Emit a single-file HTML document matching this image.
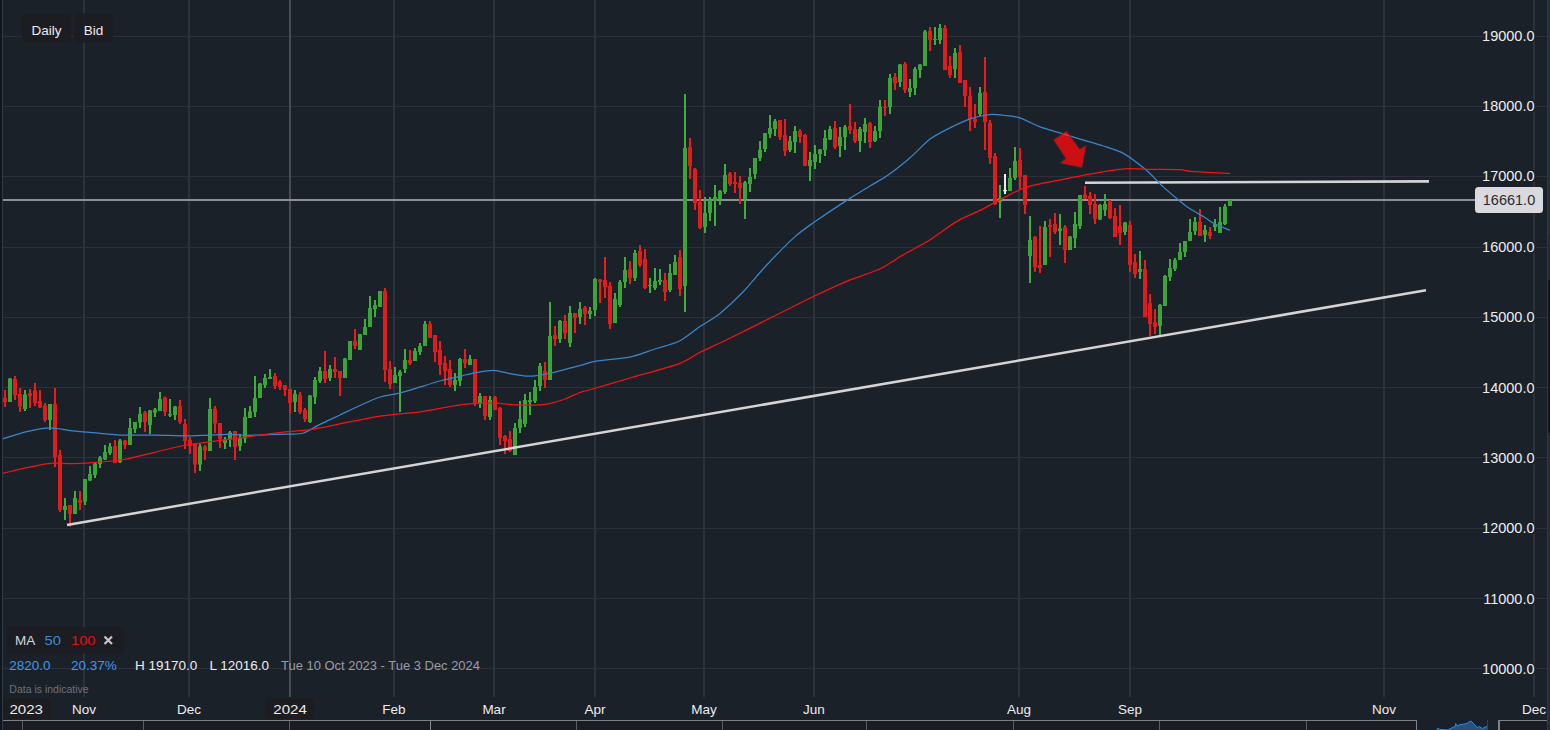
<!DOCTYPE html><html><head><meta charset="utf-8"><title>Chart</title><style>
html,body{margin:0;padding:0;background:#1b2129;}
body{width:1550px;height:730px;overflow:hidden;font-family:"Liberation Sans",sans-serif;}
svg{display:block;position:absolute;left:0;top:0;}svg text{font-family:"Liberation Sans",sans-serif;}
.ax{font-size:14.5px;fill:#ececee;paint-order:stroke;stroke:#1b2129;stroke-width:4px;stroke-linejoin:round;}
.mo{font-size:13.5px;fill:#ececee;}
</style></head><body>
<svg width="1550" height="730" viewBox="0 0 1550 730">
<rect x="0" y="0" width="1550" height="730" fill="#1b2129"/>
<rect x="3" y="36" width="1544" height="1" fill="#2c3039"/>
<rect x="3" y="106" width="1544" height="1" fill="#2c3039"/>
<rect x="3" y="176" width="1544" height="1" fill="#2c3039"/>
<rect x="3" y="247" width="1544" height="1" fill="#2c3039"/>
<rect x="3" y="317" width="1544" height="1" fill="#2c3039"/>
<rect x="3" y="387" width="1544" height="1" fill="#2c3039"/>
<rect x="3" y="457" width="1544" height="1" fill="#2c3039"/>
<rect x="3" y="528" width="1544" height="1" fill="#2c3039"/>
<rect x="3" y="598" width="1544" height="1" fill="#2c3039"/>
<rect x="3" y="668" width="1544" height="1" fill="#2c3039"/>
<rect x="83" y="0" width="2" height="697" fill="#2d313b"/>
<rect x="188" y="0" width="2" height="697" fill="#2d313b"/>
<rect x="393" y="0" width="2" height="697" fill="#2d313b"/>
<rect x="493" y="0" width="2" height="697" fill="#2d313b"/>
<rect x="594" y="0" width="2" height="697" fill="#2d313b"/>
<rect x="703" y="0" width="2" height="697" fill="#2d313b"/>
<rect x="813" y="0" width="2" height="697" fill="#2d313b"/>
<rect x="1018" y="0" width="2" height="697" fill="#2d313b"/>
<rect x="1129" y="0" width="2" height="697" fill="#2d313b"/>
<rect x="1383" y="0" width="2" height="697" fill="#2d313b"/>
<rect x="1533" y="0" width="2" height="697" fill="#2d313b"/>
<rect x="289" y="0" width="2" height="697" fill="#4a4b56"/>
<rect x="3" y="199" width="1473" height="2" fill="#8e9098"/>
<rect x="4" y="390.0" width="2" height="17.0" fill="#f01a1a"/>
<rect x="3" y="398.0" width="4" height="4.0" fill="#e01c1c"/>
<rect x="9" y="378.0" width="2" height="24.0" fill="#3fae3e"/>
<rect x="8" y="378.5" width="4" height="23.5" fill="#3ba53a"/>
<rect x="14" y="376.0" width="2" height="24.0" fill="#f01a1a"/>
<rect x="13" y="379.0" width="4" height="16.0" fill="#e01c1c"/>
<rect x="19" y="388.0" width="2" height="24.0" fill="#f01a1a"/>
<rect x="18" y="394.0" width="4" height="12.5" fill="#e01c1c"/>
<rect x="24" y="390.0" width="2" height="21.0" fill="#3fae3e"/>
<rect x="23" y="394.5" width="4" height="14.5" fill="#3ba53a"/>
<rect x="29" y="389.0" width="2" height="19.0" fill="#f01a1a"/>
<rect x="28" y="393.0" width="4" height="3.0" fill="#e01c1c"/>
<rect x="34" y="383.0" width="2" height="23.0" fill="#f01a1a"/>
<rect x="33" y="390.5" width="4" height="12.5" fill="#e01c1c"/>
<rect x="39" y="390.0" width="2" height="18.0" fill="#f01a1a"/>
<rect x="38" y="401.0" width="4" height="6.5" fill="#e01c1c"/>
<rect x="44" y="403.0" width="2" height="19.0" fill="#f01a1a"/>
<rect x="43" y="405.5" width="4" height="14.5" fill="#e01c1c"/>
<rect x="49" y="404.0" width="2" height="26.0" fill="#3fae3e"/>
<rect x="48" y="404.0" width="4" height="16.0" fill="#3ba53a"/>
<rect x="54" y="388.0" width="2" height="79.0" fill="#f01a1a"/>
<rect x="53" y="404.0" width="4" height="53.0" fill="#e01c1c"/>
<rect x="59" y="450.0" width="2" height="62.0" fill="#f01a1a"/>
<rect x="58" y="455.0" width="4" height="55.0" fill="#e01c1c"/>
<rect x="64" y="498.0" width="2" height="22.0" fill="#3fae3e"/>
<rect x="63" y="506.0" width="4" height="4.0" fill="#3ba53a"/>
<rect x="69" y="505.0" width="2" height="21.5" fill="#f01a1a"/>
<rect x="68" y="505.0" width="4" height="9.0" fill="#e01c1c"/>
<rect x="74" y="491.0" width="2" height="23.0" fill="#3fae3e"/>
<rect x="73" y="498.0" width="4" height="16.0" fill="#3ba53a"/>
<rect x="79" y="491.0" width="2" height="19.0" fill="#f01a1a"/>
<rect x="78" y="500.0" width="4" height="3.0" fill="#e01c1c"/>
<rect x="84" y="479.0" width="2" height="26.0" fill="#3fae3e"/>
<rect x="83" y="479.0" width="4" height="22.5" fill="#3ba53a"/>
<rect x="89" y="466.0" width="2" height="15.0" fill="#3fae3e"/>
<rect x="88" y="474.0" width="4" height="6.5" fill="#3ba53a"/>
<rect x="94" y="463.0" width="2" height="15.0" fill="#3fae3e"/>
<rect x="93" y="463.5" width="4" height="11.5" fill="#3ba53a"/>
<rect x="99" y="456.0" width="2" height="12.0" fill="#3fae3e"/>
<rect x="98" y="457.5" width="4" height="6.5" fill="#3ba53a"/>
<rect x="104" y="445.0" width="2" height="15.0" fill="#3fae3e"/>
<rect x="103" y="452.0" width="4" height="7.5" fill="#3ba53a"/>
<rect x="109" y="443.0" width="2" height="12.0" fill="#3fae3e"/>
<rect x="108" y="446.5" width="4" height="6.5" fill="#3ba53a"/>
<rect x="114" y="440.0" width="2" height="23.0" fill="#f01a1a"/>
<rect x="113" y="446.0" width="4" height="17.0" fill="#e01c1c"/>
<rect x="119" y="439.0" width="2" height="24.0" fill="#3fae3e"/>
<rect x="118" y="440.5" width="4" height="21.5" fill="#3ba53a"/>
<rect x="124" y="440.0" width="2" height="9.0" fill="#f01a1a"/>
<rect x="123" y="440.5" width="4" height="4.5" fill="#e01c1c"/>
<rect x="129" y="418.0" width="2" height="27.0" fill="#3fae3e"/>
<rect x="128" y="428.0" width="4" height="17.0" fill="#3ba53a"/>
<rect x="134" y="422.0" width="2" height="11.0" fill="#3fae3e"/>
<rect x="133" y="422.0" width="4" height="7.0" fill="#3ba53a"/>
<rect x="139" y="407.0" width="2" height="21.0" fill="#3fae3e"/>
<rect x="138" y="414.0" width="4" height="8.5" fill="#3ba53a"/>
<rect x="144" y="411.0" width="2" height="21.0" fill="#f01a1a"/>
<rect x="143" y="412.5" width="4" height="9.5" fill="#e01c1c"/>
<rect x="149" y="410.0" width="2" height="24.0" fill="#3fae3e"/>
<rect x="148" y="410.5" width="4" height="14.5" fill="#3ba53a"/>
<rect x="154" y="408.0" width="2" height="9.0" fill="#3fae3e"/>
<rect x="153" y="409.5" width="4" height="3.0" fill="#3ba53a"/>
<rect x="159" y="392.0" width="2" height="19.0" fill="#3fae3e"/>
<rect x="158" y="399.0" width="4" height="12.0" fill="#3ba53a"/>
<rect x="164" y="396.5" width="2" height="19.5" fill="#f01a1a"/>
<rect x="163" y="397.5" width="4" height="14.5" fill="#e01c1c"/>
<rect x="169" y="399.0" width="2" height="18.0" fill="#3fae3e"/>
<rect x="168" y="414.0" width="4" height="1.5" fill="#3ba53a"/>
<rect x="174" y="406.0" width="2" height="14.0" fill="#3fae3e"/>
<rect x="173" y="406.5" width="4" height="8.5" fill="#3ba53a"/>
<rect x="179" y="400.0" width="2" height="24.0" fill="#f01a1a"/>
<rect x="178" y="406.0" width="4" height="16.0" fill="#e01c1c"/>
<rect x="184" y="419.0" width="2" height="30.0" fill="#f01a1a"/>
<rect x="183" y="424.0" width="4" height="17.0" fill="#e01c1c"/>
<rect x="189" y="437.0" width="2" height="17.0" fill="#f01a1a"/>
<rect x="188" y="440.0" width="4" height="6.0" fill="#e01c1c"/>
<rect x="194" y="443.0" width="2" height="30.0" fill="#f01a1a"/>
<rect x="193" y="443.5" width="4" height="21.0" fill="#e01c1c"/>
<rect x="199" y="444.0" width="2" height="27.0" fill="#3fae3e"/>
<rect x="198" y="446.5" width="4" height="18.0" fill="#3ba53a"/>
<rect x="204" y="445.0" width="2" height="15.0" fill="#f01a1a"/>
<rect x="203" y="446.5" width="4" height="4.0" fill="#e01c1c"/>
<rect x="209" y="398.0" width="2" height="53.0" fill="#3fae3e"/>
<rect x="208" y="409.0" width="4" height="42.0" fill="#3ba53a"/>
<rect x="214" y="406.0" width="2" height="27.0" fill="#f01a1a"/>
<rect x="213" y="408.5" width="4" height="15.0" fill="#e01c1c"/>
<rect x="219" y="423.0" width="2" height="25.0" fill="#f01a1a"/>
<rect x="218" y="423.0" width="4" height="16.0" fill="#e01c1c"/>
<rect x="224" y="437.0" width="2" height="12.0" fill="#3fae3e"/>
<rect x="223" y="439.5" width="4" height="3.5" fill="#3ba53a"/>
<rect x="229" y="431.0" width="2" height="16.0" fill="#3fae3e"/>
<rect x="228" y="432.5" width="4" height="7.0" fill="#3ba53a"/>
<rect x="234" y="431.0" width="2" height="29.0" fill="#f01a1a"/>
<rect x="233" y="431.0" width="4" height="16.0" fill="#e01c1c"/>
<rect x="239" y="434.0" width="2" height="17.0" fill="#3fae3e"/>
<rect x="238" y="438.0" width="4" height="8.0" fill="#3ba53a"/>
<rect x="244" y="408.0" width="2" height="35.0" fill="#3fae3e"/>
<rect x="243" y="417.0" width="4" height="21.5" fill="#3ba53a"/>
<rect x="249" y="406.0" width="2" height="12.0" fill="#3fae3e"/>
<rect x="248" y="411.5" width="4" height="6.5" fill="#3ba53a"/>
<rect x="254" y="376.0" width="2" height="41.0" fill="#3fae3e"/>
<rect x="253" y="398.0" width="4" height="14.0" fill="#3ba53a"/>
<rect x="259" y="383.0" width="2" height="15.0" fill="#3fae3e"/>
<rect x="258" y="383.5" width="4" height="14.5" fill="#3ba53a"/>
<rect x="264" y="374.0" width="2" height="14.0" fill="#3fae3e"/>
<rect x="263" y="378.0" width="4" height="7.0" fill="#3ba53a"/>
<rect x="269" y="369.0" width="2" height="10.0" fill="#3fae3e"/>
<rect x="268" y="377.0" width="4" height="2.0" fill="#3ba53a"/>
<rect x="274" y="373.0" width="2" height="16.0" fill="#f01a1a"/>
<rect x="273" y="376.0" width="4" height="10.0" fill="#e01c1c"/>
<rect x="279" y="380.0" width="2" height="10.0" fill="#f01a1a"/>
<rect x="278" y="382.0" width="4" height="5.0" fill="#e01c1c"/>
<rect x="284" y="385.0" width="2" height="11.0" fill="#f01a1a"/>
<rect x="283" y="385.0" width="4" height="5.0" fill="#e01c1c"/>
<rect x="289" y="389.0" width="2" height="24.0" fill="#f01a1a"/>
<rect x="288" y="389.0" width="4" height="14.0" fill="#e01c1c"/>
<rect x="294" y="390.0" width="2" height="22.0" fill="#3fae3e"/>
<rect x="293" y="394.0" width="4" height="8.0" fill="#3ba53a"/>
<rect x="299" y="392.0" width="2" height="22.0" fill="#f01a1a"/>
<rect x="298" y="395.0" width="4" height="17.0" fill="#e01c1c"/>
<rect x="304" y="408.0" width="2" height="14.0" fill="#f01a1a"/>
<rect x="303" y="410.0" width="4" height="9.0" fill="#e01c1c"/>
<rect x="309" y="395.0" width="2" height="28.0" fill="#3fae3e"/>
<rect x="308" y="395.5" width="4" height="26.5" fill="#3ba53a"/>
<rect x="314" y="377.0" width="2" height="27.0" fill="#3fae3e"/>
<rect x="313" y="380.0" width="4" height="17.0" fill="#3ba53a"/>
<rect x="319" y="367.0" width="2" height="16.0" fill="#3fae3e"/>
<rect x="318" y="371.0" width="4" height="10.0" fill="#3ba53a"/>
<rect x="324" y="351.0" width="2" height="32.0" fill="#f01a1a"/>
<rect x="323" y="371.0" width="4" height="8.0" fill="#e01c1c"/>
<rect x="329" y="365.0" width="2" height="16.0" fill="#3fae3e"/>
<rect x="328" y="369.0" width="4" height="9.0" fill="#3ba53a"/>
<rect x="334" y="357.0" width="2" height="21.0" fill="#f01a1a"/>
<rect x="333" y="369.0" width="4" height="3.0" fill="#e01c1c"/>
<rect x="339" y="371.0" width="2" height="25.0" fill="#f01a1a"/>
<rect x="338" y="371.0" width="4" height="7.0" fill="#e01c1c"/>
<rect x="344" y="358.0" width="2" height="20.0" fill="#3fae3e"/>
<rect x="343" y="358.5" width="4" height="19.5" fill="#3ba53a"/>
<rect x="349" y="341.0" width="2" height="19.0" fill="#3fae3e"/>
<rect x="348" y="341.0" width="4" height="19.0" fill="#3ba53a"/>
<rect x="354" y="329.0" width="2" height="20.0" fill="#f01a1a"/>
<rect x="353" y="341.0" width="4" height="5.0" fill="#e01c1c"/>
<rect x="359" y="334.0" width="2" height="16.0" fill="#3fae3e"/>
<rect x="358" y="334.0" width="4" height="16.0" fill="#3ba53a"/>
<rect x="364" y="319.0" width="2" height="16.0" fill="#3fae3e"/>
<rect x="363" y="327.0" width="4" height="8.0" fill="#3ba53a"/>
<rect x="369" y="296.0" width="2" height="31.0" fill="#3fae3e"/>
<rect x="368" y="308.0" width="4" height="19.0" fill="#3ba53a"/>
<rect x="374" y="300.0" width="2" height="17.0" fill="#3fae3e"/>
<rect x="373" y="305.0" width="4" height="4.0" fill="#3ba53a"/>
<rect x="379" y="291.0" width="2" height="16.0" fill="#3fae3e"/>
<rect x="378" y="291.0" width="4" height="16.0" fill="#3ba53a"/>
<rect x="384" y="288.0" width="2" height="94.0" fill="#f01a1a"/>
<rect x="383" y="291.0" width="4" height="79.0" fill="#e01c1c"/>
<rect x="389" y="361.0" width="2" height="28.0" fill="#f01a1a"/>
<rect x="388" y="369.0" width="4" height="15.0" fill="#e01c1c"/>
<rect x="394" y="367.0" width="2" height="16.0" fill="#3fae3e"/>
<rect x="393" y="375.0" width="4" height="8.0" fill="#3ba53a"/>
<rect x="399" y="370.0" width="2" height="42.0" fill="#3fae3e"/>
<rect x="398" y="372.0" width="4" height="4.0" fill="#3ba53a"/>
<rect x="404" y="349.0" width="2" height="24.0" fill="#3fae3e"/>
<rect x="403" y="360.0" width="4" height="9.0" fill="#3ba53a"/>
<rect x="409" y="350.0" width="2" height="15.0" fill="#f01a1a"/>
<rect x="408" y="360.0" width="4" height="3.5" fill="#e01c1c"/>
<rect x="414" y="348.0" width="2" height="13.0" fill="#3fae3e"/>
<rect x="413" y="351.0" width="4" height="10.0" fill="#3ba53a"/>
<rect x="419" y="343.0" width="2" height="12.0" fill="#3fae3e"/>
<rect x="418" y="346.0" width="4" height="6.0" fill="#3ba53a"/>
<rect x="424" y="321.0" width="2" height="25.0" fill="#3fae3e"/>
<rect x="423" y="324.0" width="4" height="22.0" fill="#3ba53a"/>
<rect x="429" y="321.0" width="2" height="17.0" fill="#f01a1a"/>
<rect x="428" y="324.0" width="4" height="14.0" fill="#e01c1c"/>
<rect x="434" y="335.0" width="2" height="27.0" fill="#f01a1a"/>
<rect x="433" y="335.0" width="4" height="17.0" fill="#e01c1c"/>
<rect x="439" y="341.0" width="2" height="34.0" fill="#f01a1a"/>
<rect x="438" y="350.0" width="4" height="15.0" fill="#e01c1c"/>
<rect x="444" y="356.0" width="2" height="29.0" fill="#f01a1a"/>
<rect x="443" y="363.0" width="4" height="8.0" fill="#e01c1c"/>
<rect x="449" y="360.0" width="2" height="27.0" fill="#f01a1a"/>
<rect x="448" y="369.0" width="4" height="16.0" fill="#e01c1c"/>
<rect x="454" y="373.0" width="2" height="18.0" fill="#3fae3e"/>
<rect x="453" y="380.0" width="4" height="5.0" fill="#3ba53a"/>
<rect x="459" y="358.0" width="2" height="28.0" fill="#3fae3e"/>
<rect x="458" y="359.0" width="4" height="22.0" fill="#3ba53a"/>
<rect x="464" y="349.0" width="2" height="19.0" fill="#f01a1a"/>
<rect x="463" y="359.0" width="4" height="4.0" fill="#e01c1c"/>
<rect x="469" y="355.0" width="2" height="10.0" fill="#3fae3e"/>
<rect x="468" y="359.0" width="4" height="6.0" fill="#3ba53a"/>
<rect x="474" y="359.0" width="2" height="47.0" fill="#f01a1a"/>
<rect x="473" y="359.0" width="4" height="44.0" fill="#e01c1c"/>
<rect x="479" y="393.0" width="2" height="15.0" fill="#3fae3e"/>
<rect x="478" y="396.0" width="4" height="8.0" fill="#3ba53a"/>
<rect x="484" y="396.0" width="2" height="24.0" fill="#f01a1a"/>
<rect x="483" y="396.0" width="4" height="20.0" fill="#e01c1c"/>
<rect x="489" y="396.0" width="2" height="24.0" fill="#3fae3e"/>
<rect x="488" y="400.0" width="4" height="17.0" fill="#3ba53a"/>
<rect x="494" y="396.0" width="2" height="14.0" fill="#f01a1a"/>
<rect x="493" y="397.0" width="4" height="13.0" fill="#e01c1c"/>
<rect x="499" y="407.0" width="2" height="38.0" fill="#f01a1a"/>
<rect x="498" y="408.0" width="4" height="30.0" fill="#e01c1c"/>
<rect x="504" y="435.0" width="2" height="19.0" fill="#f01a1a"/>
<rect x="503" y="436.0" width="4" height="5.0" fill="#e01c1c"/>
<rect x="509" y="431.0" width="2" height="21.0" fill="#f01a1a"/>
<rect x="508" y="439.0" width="4" height="12.0" fill="#e01c1c"/>
<rect x="514" y="423.0" width="2" height="32.0" fill="#3fae3e"/>
<rect x="513" y="428.0" width="4" height="27.0" fill="#3ba53a"/>
<rect x="519" y="401.0" width="2" height="32.0" fill="#3fae3e"/>
<rect x="518" y="419.0" width="4" height="9.0" fill="#3ba53a"/>
<rect x="524" y="394.0" width="2" height="33.0" fill="#3fae3e"/>
<rect x="523" y="400.0" width="4" height="24.0" fill="#3ba53a"/>
<rect x="529" y="392.0" width="2" height="23.0" fill="#3fae3e"/>
<rect x="528" y="400.0" width="4" height="2.0" fill="#3ba53a"/>
<rect x="534" y="380.0" width="2" height="23.0" fill="#3fae3e"/>
<rect x="533" y="387.0" width="4" height="14.0" fill="#3ba53a"/>
<rect x="539" y="363.0" width="2" height="28.0" fill="#3fae3e"/>
<rect x="538" y="366.0" width="4" height="20.0" fill="#3ba53a"/>
<rect x="544" y="362.0" width="2" height="26.0" fill="#f01a1a"/>
<rect x="543" y="371.0" width="4" height="9.0" fill="#e01c1c"/>
<rect x="549" y="302.0" width="2" height="78.0" fill="#3fae3e"/>
<rect x="548" y="336.0" width="4" height="44.0" fill="#3ba53a"/>
<rect x="554" y="326.0" width="2" height="20.0" fill="#f01a1a"/>
<rect x="553" y="335.0" width="4" height="4.0" fill="#e01c1c"/>
<rect x="559" y="320.0" width="2" height="23.0" fill="#3fae3e"/>
<rect x="558" y="321.0" width="4" height="18.0" fill="#3ba53a"/>
<rect x="564" y="315.0" width="2" height="24.0" fill="#f01a1a"/>
<rect x="563" y="321.0" width="4" height="12.0" fill="#e01c1c"/>
<rect x="569" y="306.0" width="2" height="41.0" fill="#3fae3e"/>
<rect x="568" y="313.0" width="4" height="30.0" fill="#3ba53a"/>
<rect x="574" y="313.0" width="2" height="20.0" fill="#f01a1a"/>
<rect x="573" y="313.0" width="4" height="5.0" fill="#e01c1c"/>
<rect x="579" y="302.0" width="2" height="22.0" fill="#3fae3e"/>
<rect x="578" y="309.0" width="4" height="8.0" fill="#3ba53a"/>
<rect x="584" y="306.0" width="2" height="19.0" fill="#f01a1a"/>
<rect x="583" y="307.5" width="4" height="6.5" fill="#e01c1c"/>
<rect x="589" y="307.0" width="2" height="12.0" fill="#3fae3e"/>
<rect x="588" y="311.0" width="4" height="3.0" fill="#3ba53a"/>
<rect x="594" y="278.0" width="2" height="38.0" fill="#3fae3e"/>
<rect x="593" y="279.0" width="4" height="31.0" fill="#3ba53a"/>
<rect x="599" y="279.0" width="2" height="24.0" fill="#f01a1a"/>
<rect x="598" y="279.5" width="4" height="2.5" fill="#e01c1c"/>
<rect x="604" y="257.0" width="2" height="41.0" fill="#f01a1a"/>
<rect x="603" y="280.0" width="4" height="7.0" fill="#e01c1c"/>
<rect x="609" y="282.0" width="2" height="47.0" fill="#f01a1a"/>
<rect x="608" y="286.0" width="4" height="38.0" fill="#e01c1c"/>
<rect x="614" y="293.0" width="2" height="30.0" fill="#3fae3e"/>
<rect x="613" y="299.0" width="4" height="24.0" fill="#3ba53a"/>
<rect x="619" y="280.0" width="2" height="27.0" fill="#3fae3e"/>
<rect x="618" y="282.0" width="4" height="23.0" fill="#3ba53a"/>
<rect x="624" y="257.0" width="2" height="31.0" fill="#3fae3e"/>
<rect x="623" y="270.0" width="4" height="12.0" fill="#3ba53a"/>
<rect x="629" y="261.0" width="2" height="23.0" fill="#f01a1a"/>
<rect x="628" y="269.0" width="4" height="9.0" fill="#e01c1c"/>
<rect x="634" y="250.0" width="2" height="31.0" fill="#3fae3e"/>
<rect x="633" y="253.0" width="4" height="25.0" fill="#3ba53a"/>
<rect x="639" y="245.0" width="2" height="22.0" fill="#f01a1a"/>
<rect x="638" y="251.0" width="4" height="14.0" fill="#e01c1c"/>
<rect x="644" y="249.0" width="2" height="40.0" fill="#f01a1a"/>
<rect x="643" y="259.0" width="4" height="29.0" fill="#e01c1c"/>
<rect x="649" y="278.0" width="2" height="15.0" fill="#3fae3e"/>
<rect x="648" y="285.0" width="4" height="1.0" fill="#3ba53a"/>
<rect x="654" y="268.0" width="2" height="22.0" fill="#3fae3e"/>
<rect x="653" y="281.0" width="4" height="7.0" fill="#3ba53a"/>
<rect x="659" y="269.0" width="2" height="16.0" fill="#3fae3e"/>
<rect x="658" y="280.0" width="4" height="2.0" fill="#3ba53a"/>
<rect x="664" y="273.0" width="2" height="28.0" fill="#f01a1a"/>
<rect x="663" y="280.0" width="4" height="12.0" fill="#e01c1c"/>
<rect x="669" y="264.0" width="2" height="28.0" fill="#3fae3e"/>
<rect x="668" y="273.0" width="4" height="17.0" fill="#3ba53a"/>
<rect x="674" y="255.0" width="2" height="20.0" fill="#3fae3e"/>
<rect x="673" y="262.0" width="4" height="13.0" fill="#3ba53a"/>
<rect x="679" y="250.0" width="2" height="46.0" fill="#f01a1a"/>
<rect x="678" y="257.0" width="4" height="32.0" fill="#e01c1c"/>
<rect x="684" y="94.0" width="2" height="218.0" fill="#3fae3e"/>
<rect x="683" y="148.0" width="4" height="138.0" fill="#3ba53a"/>
<rect x="689" y="138.0" width="2" height="41.0" fill="#f01a1a"/>
<rect x="688" y="147.0" width="4" height="19.0" fill="#e01c1c"/>
<rect x="694" y="168.0" width="2" height="42.0" fill="#f01a1a"/>
<rect x="693" y="169.0" width="4" height="34.0" fill="#e01c1c"/>
<rect x="699" y="190.0" width="2" height="39.0" fill="#f01a1a"/>
<rect x="698" y="202.0" width="4" height="26.0" fill="#e01c1c"/>
<rect x="704" y="197.0" width="2" height="36.0" fill="#3fae3e"/>
<rect x="703" y="213.0" width="4" height="14.0" fill="#3ba53a"/>
<rect x="709" y="197.0" width="2" height="24.0" fill="#3fae3e"/>
<rect x="708" y="200.0" width="4" height="13.0" fill="#3ba53a"/>
<rect x="714" y="185.0" width="2" height="41.0" fill="#3fae3e"/>
<rect x="713" y="197.0" width="4" height="4.0" fill="#3ba53a"/>
<rect x="719" y="190.0" width="2" height="15.0" fill="#3fae3e"/>
<rect x="718" y="191.0" width="4" height="8.0" fill="#3ba53a"/>
<rect x="724" y="164.0" width="2" height="30.0" fill="#3fae3e"/>
<rect x="723" y="175.0" width="4" height="17.0" fill="#3ba53a"/>
<rect x="729" y="172.0" width="2" height="14.0" fill="#f01a1a"/>
<rect x="728" y="173.5" width="4" height="10.5" fill="#e01c1c"/>
<rect x="734" y="172.0" width="2" height="21.0" fill="#f01a1a"/>
<rect x="733" y="182.0" width="4" height="2.0" fill="#e01c1c"/>
<rect x="739" y="176.0" width="2" height="28.0" fill="#f01a1a"/>
<rect x="738" y="183.0" width="4" height="5.0" fill="#e01c1c"/>
<rect x="744" y="181.0" width="2" height="38.0" fill="#3fae3e"/>
<rect x="743" y="182.5" width="4" height="16.5" fill="#3ba53a"/>
<rect x="749" y="168.0" width="2" height="24.0" fill="#3fae3e"/>
<rect x="748" y="177.0" width="4" height="7.0" fill="#3ba53a"/>
<rect x="754" y="158.0" width="2" height="21.0" fill="#3fae3e"/>
<rect x="753" y="158.0" width="4" height="16.0" fill="#3ba53a"/>
<rect x="759" y="141.0" width="2" height="20.0" fill="#3fae3e"/>
<rect x="758" y="150.0" width="4" height="8.0" fill="#3ba53a"/>
<rect x="764" y="133.0" width="2" height="19.0" fill="#3fae3e"/>
<rect x="763" y="133.0" width="4" height="16.0" fill="#3ba53a"/>
<rect x="769" y="115.0" width="2" height="23.0" fill="#3fae3e"/>
<rect x="768" y="128.0" width="4" height="6.0" fill="#3ba53a"/>
<rect x="774" y="119.0" width="2" height="17.0" fill="#3fae3e"/>
<rect x="773" y="121.0" width="4" height="8.0" fill="#3ba53a"/>
<rect x="779" y="120.0" width="2" height="20.0" fill="#f01a1a"/>
<rect x="778" y="120.0" width="4" height="17.0" fill="#e01c1c"/>
<rect x="784" y="119.0" width="2" height="37.0" fill="#f01a1a"/>
<rect x="783" y="135.0" width="4" height="16.0" fill="#e01c1c"/>
<rect x="789" y="136.0" width="2" height="16.0" fill="#3fae3e"/>
<rect x="788" y="141.0" width="4" height="9.0" fill="#3ba53a"/>
<rect x="794" y="126.0" width="2" height="27.0" fill="#3fae3e"/>
<rect x="793" y="131.0" width="4" height="11.0" fill="#3ba53a"/>
<rect x="799" y="129.0" width="2" height="14.0" fill="#f01a1a"/>
<rect x="798" y="131.0" width="4" height="6.0" fill="#e01c1c"/>
<rect x="804" y="134.0" width="2" height="32.0" fill="#f01a1a"/>
<rect x="803" y="135.0" width="4" height="31.0" fill="#e01c1c"/>
<rect x="809" y="152.0" width="2" height="29.0" fill="#3fae3e"/>
<rect x="808" y="160.0" width="4" height="6.0" fill="#3ba53a"/>
<rect x="814" y="145.0" width="2" height="24.0" fill="#3fae3e"/>
<rect x="813" y="154.0" width="4" height="8.0" fill="#3ba53a"/>
<rect x="819" y="149.0" width="2" height="14.0" fill="#3fae3e"/>
<rect x="818" y="149.5" width="4" height="4.5" fill="#3ba53a"/>
<rect x="824" y="130.0" width="2" height="26.0" fill="#3fae3e"/>
<rect x="823" y="138.0" width="4" height="12.0" fill="#3ba53a"/>
<rect x="829" y="126.0" width="2" height="14.0" fill="#3fae3e"/>
<rect x="828" y="129.0" width="4" height="10.5" fill="#3ba53a"/>
<rect x="834" y="121.0" width="2" height="28.0" fill="#f01a1a"/>
<rect x="833" y="128.0" width="4" height="19.0" fill="#e01c1c"/>
<rect x="839" y="127.0" width="2" height="30.0" fill="#3fae3e"/>
<rect x="838" y="137.0" width="4" height="9.0" fill="#3ba53a"/>
<rect x="844" y="125.0" width="2" height="25.0" fill="#3fae3e"/>
<rect x="843" y="127.0" width="4" height="10.0" fill="#3ba53a"/>
<rect x="849" y="104.0" width="2" height="30.0" fill="#f01a1a"/>
<rect x="848" y="126.0" width="4" height="4.0" fill="#e01c1c"/>
<rect x="854" y="122.0" width="2" height="21.0" fill="#f01a1a"/>
<rect x="853" y="129.0" width="4" height="12.0" fill="#e01c1c"/>
<rect x="859" y="127.0" width="2" height="25.0" fill="#3fae3e"/>
<rect x="858" y="129.0" width="4" height="12.0" fill="#3ba53a"/>
<rect x="864" y="118.0" width="2" height="25.0" fill="#3fae3e"/>
<rect x="863" y="124.0" width="4" height="8.0" fill="#3ba53a"/>
<rect x="869" y="122.0" width="2" height="26.0" fill="#f01a1a"/>
<rect x="868" y="123.0" width="4" height="19.0" fill="#e01c1c"/>
<rect x="874" y="126.0" width="2" height="16.0" fill="#3fae3e"/>
<rect x="873" y="131.0" width="4" height="10.0" fill="#3ba53a"/>
<rect x="879" y="100.0" width="2" height="38.0" fill="#3fae3e"/>
<rect x="878" y="107.0" width="4" height="24.0" fill="#3ba53a"/>
<rect x="884" y="100.0" width="2" height="16.0" fill="#f01a1a"/>
<rect x="883" y="107.0" width="4" height="1.0" fill="#e01c1c"/>
<rect x="889" y="74.0" width="2" height="40.0" fill="#3fae3e"/>
<rect x="888" y="78.0" width="4" height="29.0" fill="#3ba53a"/>
<rect x="894" y="73.0" width="2" height="17.0" fill="#f01a1a"/>
<rect x="893" y="77.0" width="4" height="6.0" fill="#e01c1c"/>
<rect x="899" y="64.0" width="2" height="23.0" fill="#3fae3e"/>
<rect x="898" y="64.5" width="4" height="17.5" fill="#3ba53a"/>
<rect x="904" y="62.0" width="2" height="31.0" fill="#f01a1a"/>
<rect x="903" y="64.0" width="4" height="26.0" fill="#e01c1c"/>
<rect x="909" y="79.0" width="2" height="18.0" fill="#3fae3e"/>
<rect x="908" y="88.0" width="4" height="4.0" fill="#3ba53a"/>
<rect x="914" y="67.0" width="2" height="28.0" fill="#3fae3e"/>
<rect x="913" y="69.0" width="4" height="19.0" fill="#3ba53a"/>
<rect x="919" y="64.0" width="2" height="14.0" fill="#3fae3e"/>
<rect x="918" y="64.5" width="4" height="5.5" fill="#3ba53a"/>
<rect x="924" y="30.0" width="2" height="36.0" fill="#3fae3e"/>
<rect x="923" y="31.5" width="4" height="34.5" fill="#3ba53a"/>
<rect x="929" y="27.0" width="2" height="24.0" fill="#f01a1a"/>
<rect x="928" y="31.0" width="4" height="9.0" fill="#e01c1c"/>
<rect x="934" y="27.0" width="2" height="18.0" fill="#3fae3e"/>
<rect x="933" y="39.0" width="4" height="1.0" fill="#3ba53a"/>
<rect x="939" y="24.0" width="2" height="20.0" fill="#3fae3e"/>
<rect x="938" y="28.0" width="4" height="12.0" fill="#3ba53a"/>
<rect x="944" y="25.0" width="2" height="45.0" fill="#f01a1a"/>
<rect x="943" y="28.0" width="4" height="42.0" fill="#e01c1c"/>
<rect x="949" y="56.0" width="2" height="22.0" fill="#f01a1a"/>
<rect x="948" y="66.0" width="4" height="9.0" fill="#e01c1c"/>
<rect x="954" y="48.0" width="2" height="30.0" fill="#3fae3e"/>
<rect x="953" y="53.0" width="4" height="16.0" fill="#3ba53a"/>
<rect x="959" y="45.0" width="2" height="38.0" fill="#f01a1a"/>
<rect x="958" y="52.0" width="4" height="31.0" fill="#e01c1c"/>
<rect x="964" y="80.0" width="2" height="27.0" fill="#f01a1a"/>
<rect x="963" y="80.0" width="4" height="16.0" fill="#e01c1c"/>
<rect x="969" y="87.0" width="2" height="44.0" fill="#f01a1a"/>
<rect x="968" y="96.0" width="4" height="23.0" fill="#e01c1c"/>
<rect x="974" y="104.0" width="2" height="24.0" fill="#f01a1a"/>
<rect x="973" y="119.0" width="4" height="3.0" fill="#e01c1c"/>
<rect x="979" y="87.0" width="2" height="29.0" fill="#3fae3e"/>
<rect x="978" y="93.0" width="4" height="21.0" fill="#3ba53a"/>
<rect x="984" y="57.0" width="2" height="93.0" fill="#f01a1a"/>
<rect x="983" y="92.0" width="4" height="30.0" fill="#e01c1c"/>
<rect x="989" y="120.0" width="2" height="44.0" fill="#f01a1a"/>
<rect x="988" y="123.0" width="4" height="35.0" fill="#e01c1c"/>
<rect x="994" y="153.0" width="2" height="52.0" fill="#f01a1a"/>
<rect x="993" y="156.0" width="4" height="48.0" fill="#e01c1c"/>
<rect x="999" y="185.0" width="2" height="33.0" fill="#3fae3e"/>
<rect x="998" y="198.0" width="4" height="4.0" fill="#3ba53a"/>
<rect x="1009" y="168.0" width="2" height="23.0" fill="#3fae3e"/>
<rect x="1008" y="178.0" width="4" height="13.0" fill="#3ba53a"/>
<rect x="1014" y="147.0" width="2" height="33.0" fill="#3fae3e"/>
<rect x="1013" y="161.0" width="4" height="17.0" fill="#3ba53a"/>
<rect x="1019" y="148.0" width="2" height="41.0" fill="#f01a1a"/>
<rect x="1018" y="160.0" width="4" height="17.0" fill="#e01c1c"/>
<rect x="1024" y="175.0" width="2" height="39.0" fill="#f01a1a"/>
<rect x="1023" y="175.0" width="4" height="30.0" fill="#e01c1c"/>
<rect x="1029" y="216.0" width="2" height="67.0" fill="#3fae3e"/>
<rect x="1028" y="240.0" width="4" height="16.0" fill="#3ba53a"/>
<rect x="1034" y="236.0" width="2" height="36.0" fill="#f01a1a"/>
<rect x="1033" y="237.0" width="4" height="30.0" fill="#e01c1c"/>
<rect x="1039" y="226.0" width="2" height="47.0" fill="#f01a1a"/>
<rect x="1038" y="265.0" width="4" height="3.0" fill="#e01c1c"/>
<rect x="1044" y="221.0" width="2" height="44.0" fill="#3fae3e"/>
<rect x="1043" y="227.0" width="4" height="38.0" fill="#3ba53a"/>
<rect x="1049" y="219.0" width="2" height="38.0" fill="#f01a1a"/>
<rect x="1048" y="225.0" width="4" height="2.0" fill="#e01c1c"/>
<rect x="1054" y="213.0" width="2" height="21.0" fill="#f01a1a"/>
<rect x="1053" y="224.0" width="4" height="8.0" fill="#e01c1c"/>
<rect x="1059" y="214.0" width="2" height="31.0" fill="#3fae3e"/>
<rect x="1058" y="228.5" width="4" height="2.5" fill="#3ba53a"/>
<rect x="1064" y="225.0" width="2" height="38.0" fill="#f01a1a"/>
<rect x="1063" y="227.0" width="4" height="23.0" fill="#e01c1c"/>
<rect x="1069" y="236.0" width="2" height="14.0" fill="#3fae3e"/>
<rect x="1068" y="236.5" width="4" height="13.5" fill="#3ba53a"/>
<rect x="1074" y="212.0" width="2" height="36.0" fill="#3fae3e"/>
<rect x="1073" y="224.0" width="4" height="14.0" fill="#3ba53a"/>
<rect x="1079" y="195.0" width="2" height="34.0" fill="#3fae3e"/>
<rect x="1078" y="195.0" width="4" height="31.0" fill="#3ba53a"/>
<rect x="1084" y="186.0" width="2" height="13.0" fill="#f01a1a"/>
<rect x="1083" y="194.5" width="4" height="4.0" fill="#e01c1c"/>
<rect x="1089" y="192.0" width="2" height="22.0" fill="#f01a1a"/>
<rect x="1088" y="196.0" width="4" height="9.0" fill="#e01c1c"/>
<rect x="1094" y="194.0" width="2" height="30.0" fill="#f01a1a"/>
<rect x="1093" y="204.0" width="4" height="15.0" fill="#e01c1c"/>
<rect x="1099" y="204.0" width="2" height="16.0" fill="#3fae3e"/>
<rect x="1098" y="205.0" width="4" height="14.5" fill="#3ba53a"/>
<rect x="1104" y="194.0" width="2" height="22.0" fill="#3fae3e"/>
<rect x="1103" y="204.0" width="4" height="6.0" fill="#3ba53a"/>
<rect x="1109" y="200.0" width="2" height="19.0" fill="#f01a1a"/>
<rect x="1108" y="202.0" width="4" height="16.0" fill="#e01c1c"/>
<rect x="1114" y="208.0" width="2" height="29.0" fill="#f01a1a"/>
<rect x="1113" y="216.0" width="4" height="21.0" fill="#e01c1c"/>
<rect x="1119" y="205.0" width="2" height="40.0" fill="#f01a1a"/>
<rect x="1118" y="226.0" width="4" height="7.0" fill="#e01c1c"/>
<rect x="1124" y="222.0" width="2" height="13.0" fill="#3fae3e"/>
<rect x="1123" y="222.5" width="4" height="9.5" fill="#3ba53a"/>
<rect x="1129" y="221.0" width="2" height="51.0" fill="#f01a1a"/>
<rect x="1128" y="225.0" width="4" height="40.0" fill="#e01c1c"/>
<rect x="1134" y="254.0" width="2" height="24.0" fill="#f01a1a"/>
<rect x="1133" y="262.0" width="4" height="12.0" fill="#e01c1c"/>
<rect x="1139" y="251.0" width="2" height="28.0" fill="#3fae3e"/>
<rect x="1138" y="269.0" width="4" height="3.0" fill="#3ba53a"/>
<rect x="1144" y="260.0" width="2" height="57.0" fill="#f01a1a"/>
<rect x="1143" y="269.0" width="4" height="48.0" fill="#e01c1c"/>
<rect x="1149" y="294.0" width="2" height="42.0" fill="#f01a1a"/>
<rect x="1148" y="303.0" width="4" height="21.0" fill="#e01c1c"/>
<rect x="1154" y="309.0" width="2" height="25.0" fill="#f01a1a"/>
<rect x="1153" y="322.0" width="4" height="5.0" fill="#e01c1c"/>
<rect x="1159" y="304.0" width="2" height="31.0" fill="#3fae3e"/>
<rect x="1158" y="305.0" width="4" height="21.0" fill="#3ba53a"/>
<rect x="1164" y="275.0" width="2" height="31.0" fill="#3fae3e"/>
<rect x="1163" y="276.0" width="4" height="30.0" fill="#3ba53a"/>
<rect x="1169" y="259.0" width="2" height="22.0" fill="#3fae3e"/>
<rect x="1168" y="268.0" width="4" height="9.0" fill="#3ba53a"/>
<rect x="1174" y="258.0" width="2" height="13.0" fill="#3fae3e"/>
<rect x="1173" y="260.0" width="4" height="9.0" fill="#3ba53a"/>
<rect x="1179" y="243.0" width="2" height="17.0" fill="#3fae3e"/>
<rect x="1178" y="252.0" width="4" height="8.0" fill="#3ba53a"/>
<rect x="1184" y="241.0" width="2" height="16.0" fill="#3fae3e"/>
<rect x="1183" y="241.0" width="4" height="11.0" fill="#3ba53a"/>
<rect x="1189" y="219.0" width="2" height="22.0" fill="#3fae3e"/>
<rect x="1188" y="232.0" width="4" height="9.0" fill="#3ba53a"/>
<rect x="1194" y="217.0" width="2" height="18.0" fill="#3fae3e"/>
<rect x="1193" y="222.0" width="4" height="9.0" fill="#3ba53a"/>
<rect x="1199" y="209.0" width="2" height="27.0" fill="#f01a1a"/>
<rect x="1198" y="222.0" width="4" height="14.0" fill="#e01c1c"/>
<rect x="1204" y="225.0" width="2" height="17.0" fill="#3fae3e"/>
<rect x="1203" y="230.0" width="4" height="5.0" fill="#3ba53a"/>
<rect x="1209" y="227.0" width="2" height="12.0" fill="#f01a1a"/>
<rect x="1208" y="232.0" width="4" height="4.0" fill="#e01c1c"/>
<rect x="1214" y="219.0" width="2" height="12.0" fill="#3fae3e"/>
<rect x="1213" y="224.0" width="4" height="3.0" fill="#3ba53a"/>
<rect x="1219" y="207.0" width="2" height="26.0" fill="#3fae3e"/>
<rect x="1218" y="222.0" width="4" height="11.0" fill="#3ba53a"/>
<rect x="1224" y="204.0" width="2" height="21.0" fill="#3fae3e"/>
<rect x="1223" y="206.5" width="4" height="17.5" fill="#3ba53a"/>
<rect x="1229" y="200.0" width="2" height="6.0" fill="#3fae3e"/>
<rect x="1228" y="200.0" width="4" height="6.0" fill="#3ba53a"/>
<line x1="67" y1="524.9" x2="1426" y2="290.2" stroke="#dededf" stroke-width="2.5" stroke-opacity="0.95"/>
<line x1="1085" y1="182.8" x2="1429" y2="181.4" stroke="#dededf" stroke-width="2.6" stroke-opacity="0.95"/>
<path fill="none" stroke="#3b86c9" stroke-width="1.25" stroke-linejoin="round" d="M3.0,438.8 C6.2,437.8 20.5,433.1 26.8,431.6 C33.1,430.1 44.8,428.0 50.6,427.9 C56.4,427.8 64.6,430.0 70.2,430.6 C75.8,431.2 85.7,432.0 92.9,432.6 C100.1,433.2 115.6,434.8 123.9,435.1 C132.2,435.4 146.5,435.0 154.8,435.1 C163.1,435.2 178.9,435.9 185.8,435.9 C192.7,435.9 200.9,435.5 206.4,435.3 C211.9,435.1 221.6,434.3 227.1,434.3 C232.6,434.3 242.2,435.2 247.7,435.3 C253.2,435.4 262.9,434.9 268.4,434.7 C273.9,434.5 284.3,434.3 289.0,434.1 C293.7,433.9 299.4,434.3 303.5,433.0 C307.6,431.7 315.1,426.8 320.0,424.4 C324.9,422.0 334.7,417.5 340.0,415.0 C345.3,412.5 354.7,407.9 360.0,405.5 C365.3,403.1 374.6,398.7 380.0,397.0 C385.4,395.3 395.0,394.3 400.5,392.9 C406.0,391.5 415.5,388.4 421.0,386.7 C426.5,385.0 436.1,382.0 441.6,380.5 C447.1,379.0 457.6,376.9 462.2,375.8 C466.8,374.7 471.7,373.3 475.9,372.6 C480.1,371.9 489.2,370.2 493.7,370.3 C498.2,370.4 506.0,373.0 510.0,373.7 C514.0,374.4 520.5,375.5 523.8,375.8 C527.1,376.1 531.1,376.2 534.8,375.8 C538.5,375.4 545.2,374.4 551.2,373.0 C557.2,371.6 574.0,367.1 580.0,365.5 C586.0,363.9 589.3,362.3 595.9,361.2 C602.5,360.1 621.6,358.7 629.5,357.1 C637.4,355.5 648.3,351.1 655.0,349.0 C661.7,346.9 673.5,344.0 679.5,341.0 C685.5,338.0 694.6,330.1 700.0,326.5 C705.4,322.9 714.0,318.3 719.7,313.7 C725.4,309.1 736.6,298.7 742.7,292.3 C748.8,285.9 758.8,273.5 765.8,266.0 C772.8,258.5 788.7,242.3 795.3,236.4 C801.9,230.5 808.1,226.5 815.1,221.6 C822.1,216.7 840.6,204.3 847.9,199.6 C855.2,194.9 864.7,189.2 870.0,186.0 C875.3,182.8 882.0,179.4 887.4,175.6 C892.8,171.8 904.7,162.4 910.4,157.5 C916.1,152.6 924.8,142.9 930.1,139.0 C935.4,135.1 944.6,130.6 949.9,127.9 C955.2,125.2 964.3,120.9 969.6,119.1 C974.9,117.3 984.6,115.1 989.3,114.6 C994.0,114.1 1000.9,115.1 1005.0,115.5 C1009.1,115.9 1015.3,116.3 1019.9,117.8 C1024.5,119.3 1033.9,124.5 1039.5,126.6 C1045.1,128.7 1056.4,131.9 1062.2,133.7 C1068.0,135.5 1077.2,138.3 1082.7,139.9 C1088.2,141.5 1097.8,144.2 1103.3,146.0 C1108.8,147.8 1118.3,150.6 1123.8,153.6 C1129.3,156.6 1139.8,164.9 1144.4,168.6 C1149.0,172.3 1155.4,179.1 1158.0,181.6 C1160.6,184.1 1161.1,185.1 1163.7,187.4 C1166.3,189.7 1173.9,196.2 1177.4,199.0 C1180.9,201.8 1186.0,206.1 1189.7,208.6 C1193.4,211.1 1201.5,215.5 1204.8,217.5 C1208.1,219.5 1211.1,222.0 1214.4,223.7 C1217.7,225.4 1227.8,229.4 1229.9,230.3"/>
<path fill="none" stroke="#f21414" stroke-width="1.25" stroke-linejoin="round" d="M3.0,473.3 C6.2,472.6 20.3,469.0 26.8,467.7 C33.3,466.4 45.5,463.7 51.6,463.2 C57.7,462.7 66.8,463.7 72.3,463.6 C77.8,463.5 86.0,463.1 92.9,462.6 C99.8,462.1 115.6,460.9 123.9,459.5 C132.2,458.1 146.5,454.2 154.8,452.3 C163.1,450.4 177.5,446.5 185.8,445.0 C194.1,443.5 208.5,442.0 216.8,440.9 C225.1,439.8 239.4,437.9 247.7,436.8 C256.0,435.7 271.0,433.5 278.7,432.6 C286.4,431.7 300.0,430.8 305.5,430.2 C311.0,429.6 310.1,429.8 320.0,427.9 C329.9,426.0 366.5,418.3 380.0,416.2 C393.5,414.1 411.9,413.1 421.0,411.8 C430.1,410.5 442.1,407.9 448.5,406.8 C454.9,405.7 463.0,404.3 469.0,403.8 C475.0,403.3 487.3,403.1 493.7,403.2 C500.1,403.3 512.1,404.6 517.0,404.9 C521.9,405.2 526.5,405.3 530.7,405.2 C534.9,405.1 543.9,404.6 548.5,403.8 C553.1,403.0 560.7,400.5 564.9,399.0 C569.1,397.5 576.8,393.7 580.0,392.5 C583.2,391.3 582.3,391.9 589.0,390.0 C595.7,388.1 617.9,381.5 630.0,378.0 C642.1,374.5 670.2,367.0 679.5,363.6 C688.8,360.2 693.8,355.4 700.0,352.3 C706.2,349.2 717.5,344.3 726.3,340.0 C735.1,335.7 754.4,326.0 765.8,320.3 C777.2,314.6 800.9,302.6 811.8,297.3 C822.7,292.0 838.9,284.5 847.9,280.8 C856.9,277.1 871.7,272.8 879.2,269.3 C886.7,265.8 897.0,258.4 903.8,254.5 C910.6,250.6 923.1,244.1 930.1,239.7 C937.1,235.3 949.7,225.5 956.4,221.6 C963.1,217.7 974.1,213.3 980.0,210.4 C985.9,207.5 994.3,202.6 1000.5,199.5 C1006.7,196.4 1018.4,189.8 1026.6,187.1 C1034.8,184.4 1053.8,181.3 1062.2,179.6 C1070.6,177.9 1082.3,175.4 1089.6,174.1 C1096.9,172.8 1111.5,170.3 1117.0,169.6 C1122.5,168.9 1126.3,168.6 1130.7,168.6 C1135.1,168.6 1143.4,169.2 1150.0,169.3 C1156.6,169.4 1174.5,169.3 1180.0,169.6 C1185.5,169.9 1184.3,170.9 1191.0,171.4 C1197.7,171.9 1224.7,173.1 1229.9,173.4"/>
<polygon points="1054.4,140.1 1066.3,131.9 1079.5,150 1085.2,146.7 1081.5,166.8 1061.5,162.7 1066.7,158.6" fill="none" stroke="#4a2a30" stroke-opacity="0.55" stroke-width="2.8" stroke-linejoin="miter"/>
<polygon points="1054.4,140.1 1066.3,131.9 1079.5,150 1085.2,146.7 1081.5,166.8 1061.5,162.7 1066.7,158.6" fill="#cd0e12" stroke="#cd0e12" stroke-width="1.0" stroke-linejoin="miter"/>
<clipPath id="arwclip"><polygon points="1054.4,140.1 1066.3,131.9 1079.5,150 1085.2,146.7 1081.5,166.8 1061.5,162.7 1066.7,158.6"/></clipPath>
<polyline clip-path="url(#arwclip)" fill="none" stroke="#f0a0a8" stroke-opacity="0.35" stroke-width="1.25" points="3.0,438.8 26.8,431.6 50.6,427.9 70.2,430.6 92.9,432.6 123.9,435.1 154.8,435.1 185.8,435.9 206.4,435.3 227.1,434.3 247.7,435.3 268.4,434.7 289.0,434.1 303.5,433.0 320.0,424.4 340.0,415.0 360.0,405.5 380.0,397.0 400.5,392.9 421.0,386.7 441.6,380.5 462.2,375.8 475.9,372.6 493.7,370.3 510.0,373.7 523.8,375.8 534.8,375.8 551.2,373.0 580.0,365.5 595.9,361.2 629.5,357.1 655.0,349.0 679.5,341.0 700.0,326.5 719.7,313.7 742.7,292.3 765.8,266.0 795.3,236.4 815.1,221.6 847.9,199.6 870.0,186.0 887.4,175.6 910.4,157.5 930.1,139.0 949.9,127.9 969.6,119.1 989.3,114.6 1005.0,115.5 1019.9,117.8 1039.5,126.6 1062.2,133.7 1082.7,139.9 1103.3,146.0 1123.8,153.6 1144.4,168.6 1158.0,181.6 1163.7,187.4 1177.4,199.0 1189.7,208.6 1204.8,217.5 1214.4,223.7 1229.9,230.3"/>
<rect x="1004" y="174" width="2" height="20" fill="#ececef"/>
<rect x="1003" y="190" width="4" height="1.2" fill="#ececef"/>
<text class="ax" x="1534.5" y="40.7" text-anchor="end">19000.0</text>
<text class="ax" x="1534.5" y="111.1" text-anchor="end">18000.0</text>
<text class="ax" x="1534.5" y="181.4" text-anchor="end">17000.0</text>
<text class="ax" x="1534.5" y="251.8" text-anchor="end">16000.0</text>
<text class="ax" x="1534.5" y="322.1" text-anchor="end">15000.0</text>
<text class="ax" x="1534.5" y="392.5" text-anchor="end">14000.0</text>
<text class="ax" x="1534.5" y="462.9" text-anchor="end">13000.0</text>
<text class="ax" x="1534.5" y="533.2" text-anchor="end">12000.0</text>
<text class="ax" x="1534.5" y="603.6" text-anchor="end">11000.0</text>
<text class="ax" x="1534.5" y="673.9" text-anchor="end">10000.0</text>
<rect x="1475" y="187" width="68" height="26" rx="3.5" fill="#d9d9de"/>
<text x="1509" y="204.6" text-anchor="middle" font-size="14.5" fill="#2b2b30">16661.0</text>
<rect x="0" y="0" width="2" height="730" fill="#11161c"/>
<rect x="2" y="0" width="1" height="730" fill="#303b49"/>
<rect x="22" y="13" width="49" height="30" rx="3" fill="#1c1d22" fill-opacity="0.93"/>
<rect x="74" y="13" width="39" height="30" rx="3" fill="#1c1d22" fill-opacity="0.93"/>
<text x="46.5" y="34.5" text-anchor="middle" font-size="13.5" fill="#ececee">Daily</text>
<text x="93.5" y="34.5" text-anchor="middle" font-size="13.5" fill="#ececee">Bid</text>
<rect x="7" y="627" width="117" height="27" rx="3" fill="#1c1d22" fill-opacity="0.93"/>
<text x="15" y="645.3" font-size="13.5" fill="#d4d4d8">MA</text>
<text x="44.5" y="645.3" font-size="13.5" fill="#3d8bd6" textLength="16.5" lengthAdjust="spacingAndGlyphs">50</text>
<text x="71" y="645.3" font-size="13.5" fill="#e01212" textLength="24.5" lengthAdjust="spacingAndGlyphs">100</text>
<path d="M104.5 636.5 L112 644 M112 636.5 L104.5 644" stroke="#c4c4ca" stroke-width="2.2" fill="none"/>
<text x="9.3" y="670" font-size="13.5" fill="#3f97ee">2820.0</text>
<text x="71" y="670" font-size="13.5" fill="#3f97ee">20.37%</text>
<text x="135" y="670" font-size="13.5" fill="#ececee">H 19170.0</text>
<text x="209.5" y="670" font-size="13.5" fill="#ececee">L 12016.0</text>
<text x="281" y="670" font-size="13.5" fill="#9c9ca4" textLength="199" lengthAdjust="spacingAndGlyphs">Tue 10 Oct 2023 - Tue 3 Dec 2024</text>
<text x="9.3" y="693.2" font-size="10.5" fill="#6b7280">Data is indicative</text>
<rect x="3" y="699" width="48" height="20" fill="#1c1c21"/>
<rect x="265" y="699" width="49" height="20" fill="#1c1c21"/>
<text class="mo" x="9.5" y="714" textLength="33.5" lengthAdjust="spacingAndGlyphs">2023</text>
<text class="mo" x="273.3" y="714" textLength="33.5" lengthAdjust="spacingAndGlyphs">2024</text>
<text class="mo" x="84" y="714" text-anchor="middle">Nov</text>
<text class="mo" x="189" y="714" text-anchor="middle">Dec</text>
<text class="mo" x="394" y="714" text-anchor="middle">Feb</text>
<text class="mo" x="494" y="714" text-anchor="middle">Mar</text>
<text class="mo" x="595" y="714" text-anchor="middle">Apr</text>
<text class="mo" x="704" y="714" text-anchor="middle">May</text>
<text class="mo" x="814" y="714" text-anchor="middle">Jun</text>
<text class="mo" x="1019" y="714" text-anchor="middle">Aug</text>
<text class="mo" x="1130" y="714" text-anchor="middle">Sep</text>
<text class="mo" x="1384" y="714" text-anchor="middle">Nov</text>
<text class="mo" x="1534" y="714" text-anchor="middle">Dec</text>
<rect x="3" y="720" width="1544" height="10" fill="#191c23"/>
<rect x="3" y="720" width="1414" height="1" fill="#80808c"/>
<rect x="22" y="721" width="1" height="9" fill="#5a5d68"/>
<rect x="143" y="721" width="1" height="9" fill="#5a5d68"/>
<rect x="289" y="721" width="1" height="9" fill="#5a5d68"/>
<rect x="430" y="721" width="1" height="9" fill="#8a8a94"/>
<rect x="576" y="721" width="1" height="9" fill="#5a5d68"/>
<rect x="722" y="721" width="1" height="9" fill="#5a5d68"/>
<rect x="866" y="721" width="1" height="9" fill="#5a5d68"/>
<rect x="1013" y="721" width="1" height="9" fill="#5a5d68"/>
<rect x="1159" y="721" width="1" height="9" fill="#5a5d68"/>
<rect x="1306" y="721" width="1" height="9" fill="#5a5d68"/>
<rect x="1416" y="720" width="1" height="10" fill="#80808c"/>
<rect x="1417" y="720" width="71" height="10" fill="#1a2029"/>
<polygon points="1436.5,730 1438.2,728 1439.7,729.5 1448,730 1452.3,727.5 1455.2,726.5 1455.7,723.6 1457.1,726 1460,724.6 1463.9,724.1 1466.8,723.6 1469.2,721.7 1471.2,721.2 1473.6,723.6 1475,725.5 1477.4,727.5 1479.4,726.5 1482.3,728.5 1485.2,727 1487,726.5 1487,730" fill="#27527c"/>
<polyline points="1436.5,730 1438.2,728 1439.7,729.5 1448,730 1452.3,727.5 1455.2,726.5 1455.7,723.6 1457.1,726 1460,724.6 1463.9,724.1 1466.8,723.6 1469.2,721.7 1471.2,721.2 1473.6,723.6 1475,725.5 1477.4,727.5 1479.4,726.5 1482.3,728.5 1485.2,727 1487,726.5" fill="none" stroke="#2f8de0" stroke-width="1"/>
<rect x="1487" y="720" width="1" height="10" fill="#3a3f4a"/>
<rect x="1488" y="720" width="10" height="10" fill="#1b212a"/>
<rect x="1498" y="720" width="49" height="1" fill="#80808c"/>
<rect x="1498" y="720" width="2" height="10" fill="#80808c"/>
<rect x="1547" y="0" width="1" height="730" fill="#2f3a48"/>
<rect x="1548" y="0" width="2" height="730" fill="#252f3b"/>
<rect x="1548" y="233" width="2" height="1" fill="#2f3b49"/>
<rect x="1548" y="234" width="2" height="46" fill="#212a35"/>
<rect x="1548" y="280" width="2" height="153" fill="#11151b"/>
<rect x="1548" y="433" width="2" height="297" fill="#232c37"/>
</svg></body></html>
